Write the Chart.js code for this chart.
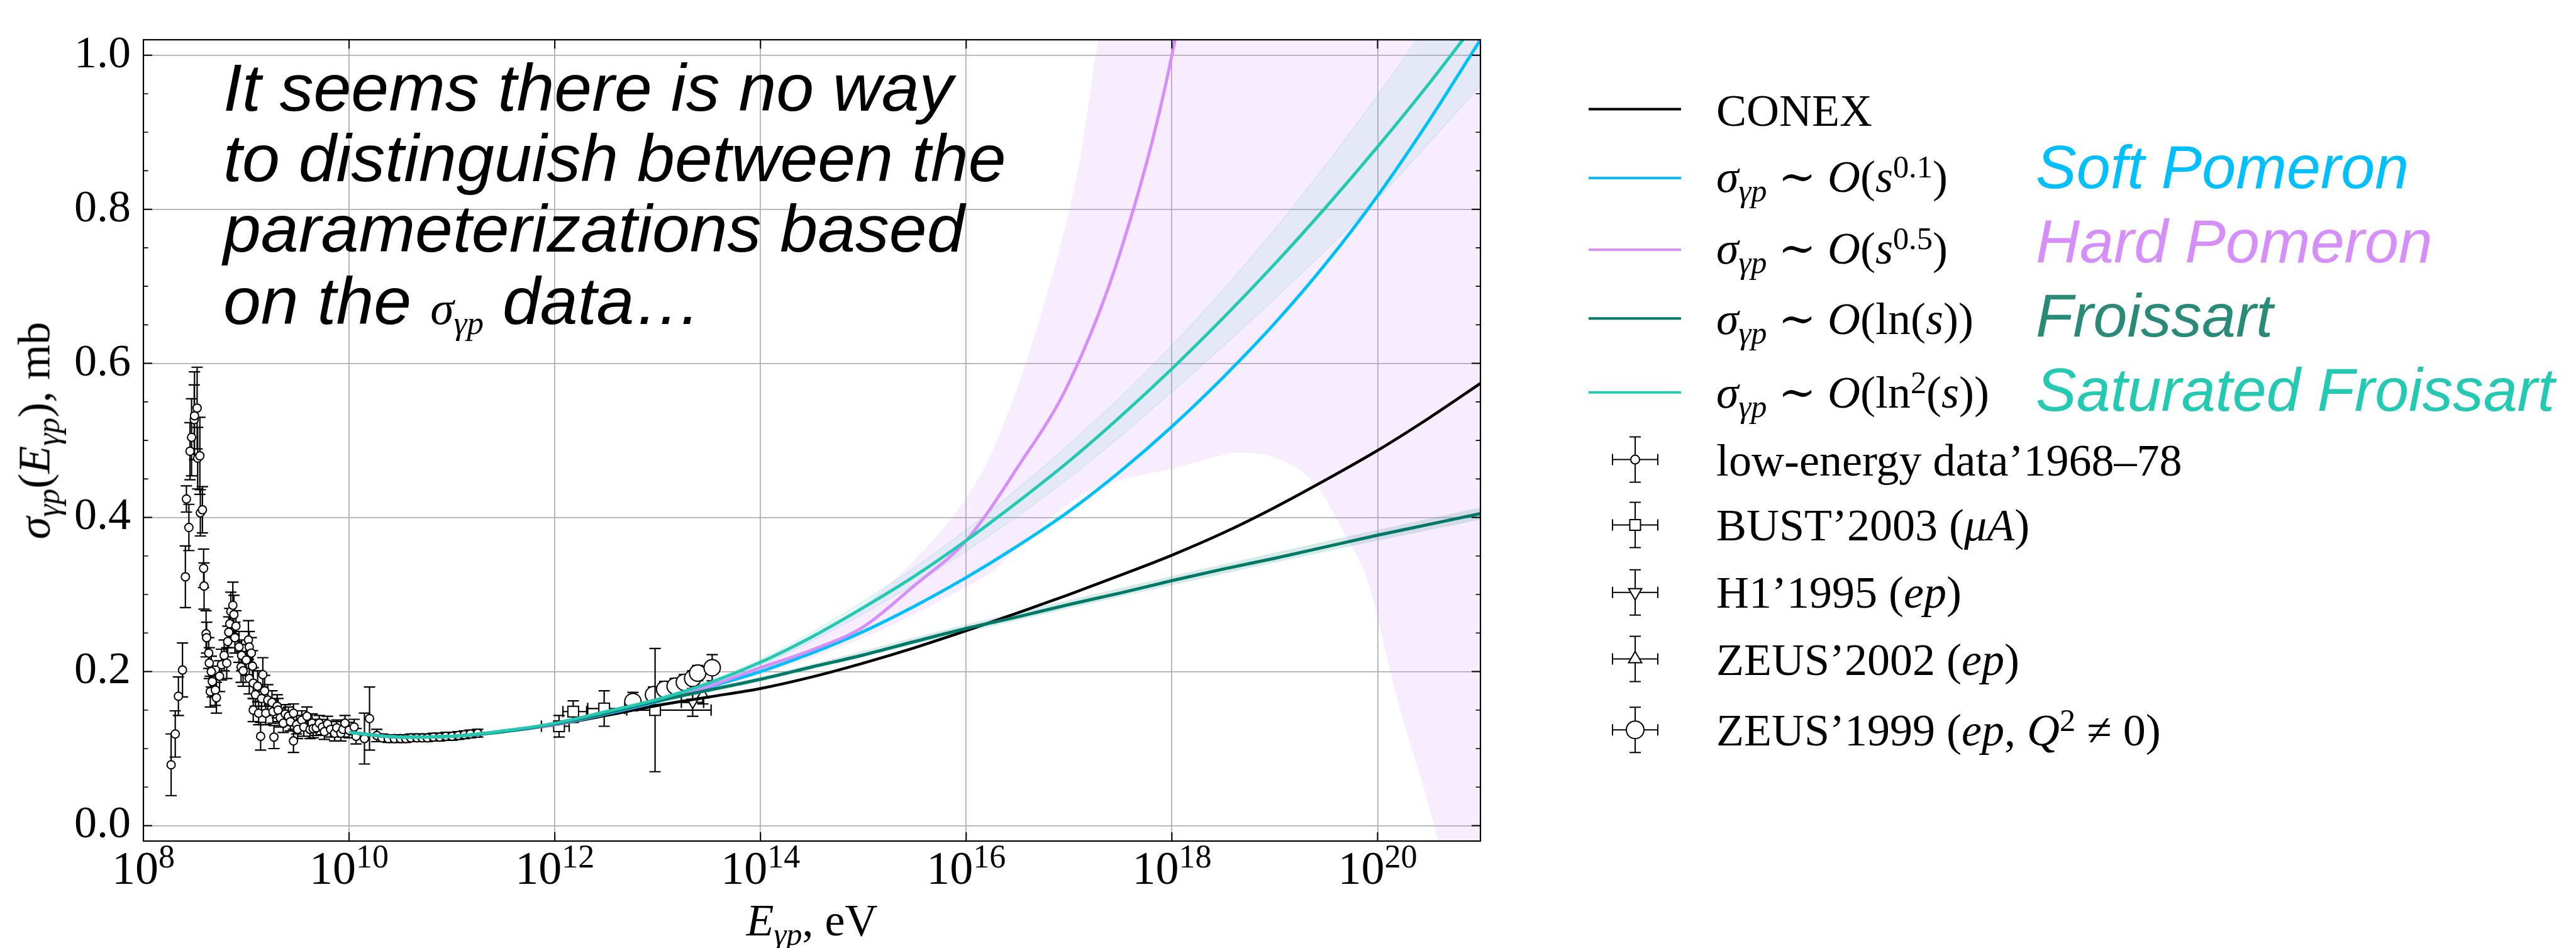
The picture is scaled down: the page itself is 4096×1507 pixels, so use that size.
<!DOCTYPE html>
<html>
<head>
<meta charset="utf-8">
<title>Photoproduction cross section</title>
<script src="https://cdn.jsdelivr.net/npm/chart.js@4.4.1/dist/chart.umd.min.js"></script>
<style>
  html, body { margin: 0; padding: 0; background: #fff; }
  #wrap { position: relative; width: 4096px; height: 1507px; overflow: hidden; }
  #plot { position: absolute; left: 0; top: 0; }
  .serif { position: absolute; white-space: nowrap; font-family: 'Liberation Serif', 'DejaVu Serif', serif; font-size: 72px; line-height: 72px; color: #000; }
  .note { position: absolute; white-space: nowrap; font-family: 'Liberation Sans', Arial, sans-serif; font-style: italic; font-size: 105px; line-height: 105px; color: #000; transform: scaleX(1.025); transform-origin: left center; }
  .tag { position: absolute; white-space: nowrap; font-family: 'Liberation Sans', Arial, sans-serif; font-style: italic; font-size: 97px; line-height: 97px; }
  .lo { font-size: 0.7em; position: relative; top: 0.3em; }
  .hi { font-size: 0.7em; position: relative; top: -0.45em; }
  .m { font-family: 'Liberation Serif', 'DejaVu Serif', serif; font-style: italic; }
</style>
</head>
<body>
<div id="wrap">
  <canvas id="plot" width="4096" height="1507"></canvas>

  <!-- axis titles -->
  <div class="serif" style="left:-392px; top:645px; width:900px; text-align:center; transform:rotate(-90deg);"><i>σ</i><span class="lo"><i>γp</i></span>(<i>E</i><span class="lo"><i>γp</i></span>), mb</div>
  <div class="serif" style="left:841px; top:1427px; width:900px; text-align:center;"><i>E</i><span class="lo"><i>γp</i></span>, eV</div>

  <!-- remark inside the plot -->
  <div class="note" style="left:355px; top:87px;">It seems there is no way</div>
  <div class="note" style="left:355px; top:199px;">to distinguish between the</div>
  <div class="note" style="left:355px; top:311px;">parameterizations based</div>
  <div class="note" style="left:355px; top:426px;">on the <span class="m" style="font-size:74px;">σ<span class="lo">γp</span></span> data…</div>

  <!-- legend labels -->
  <div class="serif" style="left:2729px; top:140px;">CONEX</div>
  <div class="serif" style="left:2729px; top:245px;"><i>σ</i><span class="lo"><i>γp</i></span> ∼ <i>O</i>(<i>s</i><span class="hi">0.1</span>)</div>
  <div class="serif" style="left:2729px; top:359px;"><i>σ</i><span class="lo"><i>γp</i></span> ∼ <i>O</i>(<i>s</i><span class="hi">0.5</span>)</div>
  <div class="serif" style="left:2729px; top:471px;"><i>σ</i><span class="lo"><i>γp</i></span> ∼ <i>O</i>(ln(<i>s</i>))</div>
  <div class="serif" style="left:2729px; top:588px;"><i>σ</i><span class="lo"><i>γp</i></span> ∼ <i>O</i>(ln<span class="hi">2</span>(<i>s</i>))</div>
  <div class="serif" style="left:2729px; top:696px;">low-energy data’1968–78</div>
  <div class="serif" style="left:2729px; top:799px;">BUST’2003 (<i>μA</i>)</div>
  <div class="serif" style="left:2729px; top:906px;">H1’1995 (<i>ep</i>)</div>
  <div class="serif" style="left:2729px; top:1013px;">ZEUS’2002 (<i>ep</i>)</div>
  <div class="serif" style="left:2729px; top:1125px;">ZEUS’1999 (<i>ep</i>, <i>Q</i><span class="hi">2</span> ≠ 0)</div>

  <div class="tag" style="left:3237px; top:217px; color:#00BFFF;">Soft Pomeron</div>
  <div class="tag" style="left:3237px; top:335px; color:#D68FFA;">Hard Pomeron</div>
  <div class="tag" style="left:3237px; top:453px; color:#2A8A78;">Froissart</div>
  <div class="tag" style="left:3237px; top:571px; color:#24C9B2;">Saturated Froissart</div>
</div>

<script>
// ---- axis ticks ----
const xMajor = [1e8, 1e10, 1e12, 1e14, 1e16, 1e18, 1e20];
const xExponents = ['8', '10', '12', '14', '16', '18', '20'];
const yMajor = [0, 0.2, 0.4, 0.6, 0.8, 1.0];
const yLabels = ['0.0', '0.2', '0.4', '0.6', '0.8', '1.0'];
const yMinor = [0.05, 0.1, 0.15, 0.25, 0.3, 0.35, 0.45, 0.5, 0.55, 0.65, 0.7, 0.75, 0.85, 0.9, 0.95];

// ---- measurements (E in eV, sigma in mb) ----
const lowE = [1.86e8, 2.04e8, 2.19e8, 2.40e8, 2.56e8, 2.62e8, 2.77e8, 2.84e8, 2.94e8, 3.12e8,
  3.14e8, 3.33e8, 3.37e8, 3.54e8, 3.58e8, 3.75e8, 3.85e8, 3.89e8, 4.07e8, 4.12e8,
  4.32e8, 4.37e8, 4.47e8, 4.57e8, 4.68e8, 5.01e8, 5.13e8, 5.50e8, 5.75e8, 6.10e8,
  6.46e8, 6.61e8, 6.76e8, 6.92e8, 7.08e8, 7.41e8, 7.59e8, 7.76e8, 7.94e8, 8.51e8,
  8.91e8, 9.02e8, 9.33e8, 1.00e9, 1.05e9, 1.07e9, 1.07e9, 1.12e9, 1.15e9, 1.17e9,
  1.17e9, 1.23e9, 1.29e9, 1.32e9, 1.38e9, 1.41e9, 1.45e9, 1.51e9, 1.55e9, 1.62e9,
  1.78e9, 1.82e9, 1.86e9, 2.00e9, 2.04e9, 2.14e9, 2.29e9, 2.40e9, 2.57e9, 2.69e9,
  2.88e9, 2.88e9, 3.09e9, 3.16e9, 3.47e9, 3.63e9, 3.89e9, 4.17e9, 4.37e9, 4.47e9,
  4.79e9, 5.13e9, 5.50e9, 5.75e9, 6.17e9, 6.61e9, 7.24e9, 7.59e9, 8.32e9, 8.71e9,
  9.12e9, 1.00e10, 1.12e10, 1.17e10, 1.41e10, 1.58e10, 1.86e10, 2.09e10, 2.40e10, 2.75e10,
  3.16e10, 3.55e10, 3.98e10, 4.57e10, 5.13e10, 5.75e10, 6.61e10, 7.59e10, 8.71e10, 1.00e11,
  1.15e11, 1.32e11, 1.51e11, 1.78e11];
const lowSigma = [0.079, 0.119, 0.168, 0.202, 0.323, 0.424, 0.387, 0.486, 0.504, 0.527,
  0.532, 0.542, 0.477, 0.480, 0.406, 0.410, 0.334, 0.311, 0.249, 0.244,
  0.224, 0.211, 0.174, 0.200, 0.187, 0.176, 0.166, 0.194, 0.209, 0.221,
  0.211, 0.239, 0.251, 0.262, 0.278, 0.286, 0.274, 0.244, 0.259, 0.232,
  0.206, 0.221, 0.201, 0.215, 0.241, 0.232, 0.191, 0.224, 0.207, 0.185,
  0.150, 0.170, 0.181, 0.146, 0.116, 0.165, 0.196, 0.175, 0.146, 0.163,
  0.160, 0.148, 0.115, 0.155, 0.150, 0.140, 0.133, 0.145, 0.142, 0.135,
  0.146, 0.110, 0.131, 0.125, 0.137, 0.128, 0.142, 0.125, 0.133, 0.126,
  0.127, 0.133, 0.128, 0.122, 0.132, 0.125, 0.120, 0.127, 0.120, 0.125,
  0.133, 0.124, 0.128, 0.116, 0.113, 0.139, 0.117, 0.114, 0.113, 0.113,
  0.113, 0.113, 0.114, 0.114, 0.114, 0.114, 0.115, 0.115, 0.116, 0.116,
  0.117, 0.118, 0.119, 0.120];
const lowErr = [0.040, 0.030, 0.025, 0.035, 0.040, 0.017, 0.030, 0.037, 0.050, 0.045,
  0.057, 0.053, 0.040, 0.050, 0.030, 0.030, 0.025, 0.030, 0.030, 0.020,
  0.020, 0.020, 0.020, 0.020, 0.020, 0.020, 0.020, 0.020, 0.020, 0.020,
  0.020, 0.020, 0.020, 0.020, 0.025, 0.030, 0.025, 0.020, 0.020, 0.020,
  0.020, 0.020, 0.020, 0.020, 0.025, 0.020, 0.020, 0.020, 0.020, 0.020,
  0.015, 0.015, 0.020, 0.015, 0.018, 0.015, 0.022, 0.020, 0.015, 0.020,
  0.015, 0.015, 0.015, 0.015, 0.015, 0.012, 0.012, 0.012, 0.012, 0.012,
  0.012, 0.015, 0.012, 0.012, 0.012, 0.012, 0.012, 0.012, 0.012, 0.012,
  0.010, 0.010, 0.010, 0.010, 0.010, 0.010, 0.010, 0.010, 0.010, 0.010,
  0.010, 0.010, 0.010, 0.010, 0.033, 0.041, 0.008, 0.005, 0.005, 0.005,
  0.005, 0.005, 0.005, 0.005, 0.005, 0.005, 0.005, 0.005, 0.005, 0.005,
  0.005, 0.005, 0.005, 0.005];

const bustE = [1.10e12, 1.51e12, 3.02e12, 9.44e12];
const bustSigma = [0.129, 0.148, 0.152, 0.150];
const bustErr = [0.014, 0.014, 0.023, 0.080];
const bustELo = [7.41e11, 1.20e12, 2.09e12, 5.01e12];
const bustEHi = [1.38e12, 2.04e12, 4.79e12, 3.31e13];

const h1E = [2.19e13];
const h1Sigma = [0.160];
const h1Err = [0.018];
const h1ELo = [1.70e13];
const h1EHi = [2.80e13];

const zeus02E = [2.75e13];
const zeus02Sigma = [0.170];
const zeus02Err = [0.012];

const zeus99E = [5.75e12, 9.12e12, 1.17e13, 1.48e13, 1.82e13, 2.19e13, 2.45e13, 3.39e13];
const zeus99Sigma = [0.161, 0.170, 0.177, 0.181, 0.186, 0.191, 0.198, 0.205];
const zeus99Err = [0.012, 0.010, 0.010, 0.010, 0.010, 0.010, 0.010, 0.017];

// ---- model curves ----
const modelE = [1e10, 3.16e10, 1e11, 3.16e11, 1e12, 3.16e12, 1e13, 3.16e13, 1e14, 3.16e14,
  1e15, 3.16e15, 1e16, 3.16e16, 1e17, 3.16e17, 1e18, 3.16e18, 1e19, 3.16e19,
  1e20, 3.16e20, 1e21];
const conex = [0.121, 0.115, 0.116, 0.122, 0.131, 0.143, 0.156, 0.167, 0.178, 0.193,
  0.211, 0.231, 0.253, 0.276, 0.300, 0.325, 0.351, 0.380, 0.413, 0.449,
  0.487, 0.529, 0.574];
const softPomeron = [0.121, 0.115, 0.116, 0.122, 0.131, 0.145, 0.161, 0.180, 0.200, 0.224,
  0.252, 0.285, 0.322, 0.363, 0.408, 0.460, 0.518, 0.582, 0.652, 0.730,
  0.8175, 0.915, 1.020];
const hardPomeron = [0.121, 0.115, 0.116, 0.122, 0.131, 0.146, 0.162, 0.181, 0.205, 0.228,
  0.258, 0.312, 0.370, 0.465, 0.575, 0.745, 1.000, 1.400];
const froissart = [0.121, 0.115, 0.116, 0.122, 0.132, 0.146, 0.162, 0.176, 0.190, 0.206,
  0.2215, 0.239, 0.256, 0.271, 0.287, 0.302, 0.318, 0.333, 0.347, 0.362,
  0.377, 0.391, 0.405];
const satFroissart = [0.121, 0.115, 0.116, 0.123, 0.133, 0.148, 0.164, 0.185, 0.212, 0.245,
  0.283, 0.324, 0.370, 0.420, 0.473, 0.531, 0.593, 0.659, 0.729, 0.803,
  0.881, 0.963, 1.050];

// uncertainty bands
const hardBandE = [3.16e12, 1e13, 3.16e13, 1e14, 3.16e14, 1e15, 3.16e15, 1e16, 1.78e16, 4.47e16,
  1.26e17, 2.00e17, 5.01e17, 1e18, 2.00e18, 4.37e18, 9.33e18, 2.40e19, 5.13e19, 7.94e19,
  1.58e20, 3.55e20, 6.31e20, 1e21];
const hardBandHi = [0.147, 0.164, 0.186, 0.212, 0.244, 0.286, 0.345, 0.425, 0.485, 0.630,
  0.860, 1.030, 1.200, 1.300, 1.300, 1.300, 1.300, 1.300, 1.300, 1.300,
  1.300, 1.300, 1.300, 1.300];
const hardBandLo = [0.145, 0.160, 0.177, 0.196, 0.218, 0.244, 0.275, 0.310, 0.330, 0.380,
  0.427, 0.440, 0.455, 0.463, 0.474, 0.484, 0.479, 0.445, 0.372, 0.319,
  0.160, 0.000, -0.150, -0.300];
const satBandE = [1e12, 1e13, 1e14, 1e15, 1e16, 1e17, 1e18, 1e19, 1e20, 1e21];
const satBandHi = [0.134, 0.166, 0.216, 0.291, 0.384, 0.495, 0.623, 0.774, 0.948, 1.140];
const satBandLo = [0.132, 0.162, 0.208, 0.275, 0.356, 0.451, 0.563, 0.684, 0.814, 0.960];
const froBandE = [1e12, 1e14, 1e16, 1e18, 1e20, 1e21];
const froBandHi = [0.133, 0.193, 0.261, 0.324, 0.384, 0.413];
const froBandLo = [0.131, 0.187, 0.251, 0.312, 0.370, 0.397];

// ---- colours ----
const cConex = '#000000';
const cSoft = '#00BFFF';
const cHard = '#D68FFA';
const cFro = '#007A68';
const cSat = '#24C9B2';

function pts(xs, ys) {
  return xs.map(function (x, i) { return { x: x, y: ys[i] }; });
}

function curve(label, xs, ys, color, width, order) {
  return { label: label, data: pts(xs, ys), borderColor: color, borderWidth: width,
    pointRadius: 0, fill: false, cubicInterpolationMode: 'monotone', order: order };
}

function band(xs, ys, fillColor, edgeColor, fill) {
  return { data: pts(xs, ys), borderWidth: edgeColor ? 1.2 : 0, borderColor: edgeColor || 'rgba(0,0,0,0)',
    backgroundColor: fillColor, pointRadius: 0, fill: fill, cubicInterpolationMode: 'monotone', order: 7 };
}

function markers(label, xs, ys, style, r, extra) {
  return Object.assign({ label: label, data: pts(xs, ys), showLine: false, pointStyle: style,
    pointRadius: r, pointBackgroundColor: '#fff', pointBorderColor: '#000', pointBorderWidth: 2,
    order: 6, capSize: 9 }, extra);
}

const datasets = [
  band(hardBandE, hardBandLo, 'rgba(214,143,250,0.16)', null, false),
  band(hardBandE, hardBandHi, 'rgba(214,143,250,0.16)', null, '-1'),
  band(satBandE, satBandLo, 'rgba(36,201,178,0.11)', 'rgba(36,201,178,0.18)', false),
  band(satBandE, satBandHi, 'rgba(36,201,178,0.11)', 'rgba(36,201,178,0.18)', '-1'),
  band(froBandE, froBandLo, 'rgba(0,122,104,0.16)', null, false),
  band(froBandE, froBandHi, 'rgba(0,122,104,0.16)', null, '-1'),
  markers('low-energy', lowE, lowSigma, 'circle', 6.5, { yErr: lowErr }),
  markers('BUST', bustE, bustSigma, 'rect', 12, { yErr: bustErr, xLo: bustELo, xHi: bustEHi }),
  markers('H1', h1E, h1Sigma, 'triangle', 10, { pointRotation: 180, yErr: h1Err, xLo: h1ELo, xHi: h1EHi }),
  markers('ZEUS 2002', zeus02E, zeus02Sigma, 'triangle', 10, { yErr: zeus02Err }),
  markers('ZEUS 1999', zeus99E, zeus99Sigma, 'circle', 13, { yErr: zeus99Err }),
  curve('CONEX', modelE, conex, cConex, 4.5, 5),
  curve('soft', modelE, softPomeron, cSoft, 5, 4),
  curve('hard', modelE.slice(0, hardPomeron.length), hardPomeron, cHard, 5, 3),
  curve('froissart', modelE, froissart, cFro, 5, 2),
  curve('saturated', modelE, satFroissart, cSat, 5, 1)
];

// error bars are drawn right before their markers
const errorBars = {
  id: 'errorBars',
  beforeDatasetDraw: function (chart, args) {
    const ds = chart.data.datasets[args.index];
    if (!ds.yErr) return;
    const ctx = chart.ctx, a = chart.chartArea;
    const sx = chart.scales.x, sy = chart.scales.y;
    const cap = ds.capSize;
    ctx.save();
    ctx.beginPath();
    ctx.rect(a.left, a.top, a.right - a.left, a.bottom - a.top);
    ctx.clip();
    ctx.strokeStyle = '#000';
    ctx.lineWidth = 2.2;
    ds.data.forEach(function (p, i) {
      const px = sx.getPixelForValue(p.x), py = sy.getPixelForValue(p.y);
      const t = sy.getPixelForValue(p.y + ds.yErr[i]), b = sy.getPixelForValue(p.y - ds.yErr[i]);
      ctx.beginPath();
      ctx.moveTo(px, t); ctx.lineTo(px, b);
      ctx.moveTo(px - cap, t); ctx.lineTo(px + cap, t);
      ctx.moveTo(px - cap, b); ctx.lineTo(px + cap, b);
      if (ds.xLo) {
        const l = sx.getPixelForValue(ds.xLo[i]), r = sx.getPixelForValue(ds.xHi[i]);
        ctx.moveTo(l, py); ctx.lineTo(r, py);
        ctx.moveTo(l, py - cap); ctx.lineTo(l, py + cap);
        ctx.moveTo(r, py - cap); ctx.lineTo(r, py + cap);
      }
      ctx.stroke();
    });
    ctx.restore();
  }
};

// frame, inward ticks, x tick labels and legend symbols
const frame = {
  id: 'frame',
  afterDraw: function (chart) {
    const ctx = chart.ctx, a = chart.chartArea;
    const sx = chart.scales.x, sy = chart.scales.y;
    ctx.save();
    ctx.strokeStyle = '#000';
    ctx.lineWidth = 1.6;
    ctx.beginPath();
    yMinor.forEach(function (v) {
      const py = sy.getPixelForValue(v);
      ctx.moveTo(a.left, py); ctx.lineTo(a.left + 7.5, py);
      ctx.moveTo(a.right, py); ctx.lineTo(a.right - 7.5, py);
    });
    ctx.stroke();
    ctx.lineWidth = 2;
    ctx.beginPath();
    yMajor.forEach(function (v) {
      const py = sy.getPixelForValue(v);
      ctx.moveTo(a.left, py); ctx.lineTo(a.left + 14, py);
      ctx.moveTo(a.right, py); ctx.lineTo(a.right - 14, py);
    });
    xMajor.forEach(function (v) {
      const px = sx.getPixelForValue(v);
      ctx.moveTo(px, a.bottom); ctx.lineTo(px, a.bottom - 14);
      ctx.moveTo(px, a.top); ctx.lineTo(px, a.top + 14);
    });
    ctx.stroke();
    ctx.lineWidth = 2.2;
    ctx.strokeRect(a.left, a.top, a.right - a.left, a.bottom - a.top);

    // 10^n labels
    ctx.fillStyle = '#000';
    ctx.textAlign = 'left';
    ctx.textBaseline = 'alphabetic';
    xMajor.forEach(function (v, i) {
      const px = sx.getPixelForValue(v);
      ctx.font = '74px "Liberation Serif"';
      const w1 = ctx.measureText('10').width;
      ctx.font = '52px "Liberation Serif"';
      const w2 = ctx.measureText(xExponents[i]).width;
      const left = px - (w1 + w2) / 2;
      ctx.font = '74px "Liberation Serif"';
      ctx.fillText('10', left, a.bottom + 68);
      ctx.font = '52px "Liberation Serif"';
      ctx.fillText(xExponents[i], left + w1, a.bottom + 42);
    });

    // legend: line samples
    const lineRows = [[cConex, 173.6], [cSoft, 282.9], [cHard, 396.9], [cFro, 506.2], [cSat, 623.8]];
    ctx.lineWidth = 4;
    lineRows.forEach(function (row) {
      ctx.strokeStyle = row[0];
      ctx.beginPath();
      ctx.moveTo(2526, row[1]); ctx.lineTo(2673, row[1]);
      ctx.stroke();
    });

    // legend: marker samples with error crosses
    const mx = 2600;
    const markerRows = [
      { style: 'circle', r: 7, rot: 0, y: 730.6 },
      { style: 'rect', r: 12, rot: 0, y: 834.5 },
      { style: 'triangle', r: 12, rot: 180, y: 941.7 },
      { style: 'triangle', r: 12, rot: 0, y: 1047.6 },
      { style: 'circle', r: 14, rot: 0, y: 1160.2 }
    ];
    markerRows.forEach(function (m) {
      ctx.strokeStyle = '#000';
      ctx.lineWidth = 2;
      ctx.beginPath();
      ctx.moveTo(mx - 36, m.y); ctx.lineTo(mx + 36, m.y);
      ctx.moveTo(mx - 36, m.y - 9); ctx.lineTo(mx - 36, m.y + 9);
      ctx.moveTo(mx + 36, m.y - 9); ctx.lineTo(mx + 36, m.y + 9);
      ctx.moveTo(mx, m.y - 36); ctx.lineTo(mx, m.y + 36);
      ctx.moveTo(mx - 9, m.y - 36); ctx.lineTo(mx + 9, m.y - 36);
      ctx.moveTo(mx - 9, m.y + 36); ctx.lineTo(mx + 9, m.y + 36);
      ctx.stroke();
      ctx.fillStyle = '#fff';
      Chart.helpers.drawPoint(ctx, { pointStyle: m.style, radius: m.r, rotation: m.rot, borderWidth: 2 }, mx, m.y);
    });
    ctx.restore();
  }
};

new Chart(document.getElementById('plot'), {
  type: 'line',
  data: { datasets: datasets },
  plugins: [errorBars, frame],
  options: {
    responsive: false,
    devicePixelRatio: 1,
    animation: false,
    events: [],
    layout: { padding: { left: 0, top: 15, right: 1742, bottom: 0 } },
    plugins: { legend: { display: false }, tooltip: { enabled: false } },
    scales: {
      x: {
        type: 'logarithmic',
        min: 1e8,
        max: 1e21,
        afterBuildTicks: function (s) { s.ticks = xMajor.map(function (v) { return { value: v }; }); },
        afterFit: function (s) { s.height = 170; },
        ticks: { display: false },
        grid: { color: '#b0b0b0', lineWidth: 1.8, drawTicks: false },
        border: { display: false }
      },
      y: {
        type: 'linear',
        min: -0.02,
        max: 1.02,
        afterBuildTicks: function (s) { s.ticks = yMajor.map(function (v) { return { value: v }; }); },
        afterFit: function (s) { s.width = 228; },
        ticks: {
          color: '#000',
          padding: 20,
          autoSkip: false,
          font: { family: 'Liberation Serif', size: 72 },
          callback: function (v, i) { return yLabels[i]; }
        },
        grid: { color: '#b0b0b0', lineWidth: 1.8, drawTicks: false },
        border: { display: false }
      }
    }
  }
});
</script>
</body>
</html>
